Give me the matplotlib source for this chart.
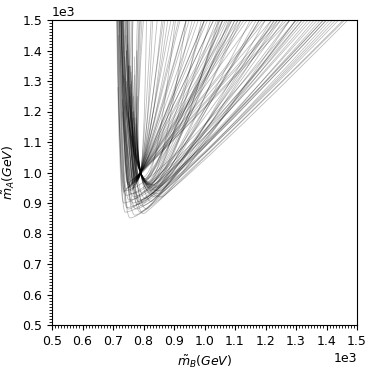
import numpy as np
import matplotlib
matplotlib.use('Agg')
import matplotlib.pyplot as plt
from matplotlib.path import Path
from matplotlib.patches import PathPatch
from matplotlib.ticker import MultipleLocator

# Each curve:
#   left_end_x/y    where the left branch ends (at the top edge, or earlier)
#   left_x_at_1000  x where the left branch crosses m_A = 1000
#   vertex_x/y      lowest point of the curve
#   right_x_at_1000 x where the right branch crosses m_A = 1000
#   right_top_x     x where the right branch leaves the top (m_A = 1500)
left_end_x = [752, 745, 738, 762, 730, 748, 768, 741, 757, 733, 771, 725, 754, 736, 744, 722, 739, 727,
              759, 750, 764, 746, 760, 731, 775, 716, 719, 728,
              745, 770, 735, 760, 740, 725, 780, 750, 732, 790, 765, 785, 755, 738, 765, 748,
              795, 775, 752, 742, 788, 758, 800, 728,
              718, 714, 722, 716, 725, 728, 720, 730, 712, 726, 734, 716, 721, 740, 731, 713,
              748, 742, 755, 736, 745, 730, 727, 732, 721, 739,
              770, 765, 760, 772, 755, 768, 750, 762, 758, 745, 780, 775, 770, 778, 765]
left_end_y = [1500, 1300, 1380, 1180, 1500, 1420, 1250, 1230, 1350, 1500, 1120, 1500, 1280, 1320, 1400, 1500, 1220, 1500,
              1330, 1200, 1150, 1500, 1260, 1500, 1080, 1500, 1450, 1500,
              1500, 1380, 1500, 1500, 1240, 1500, 1500, 1350, 1500, 1500, 1200, 1500, 1500, 1310, 1500, 1500,
              1500, 1160, 1500, 1450, 1500, 1290, 1500, 1500,
              1500, 1500, 1500, 1280, 1500, 1500, 1500, 1200, 1500, 1500, 1500, 1500, 1500, 1500, 1500, 1500,
              1500, 1500, 1350, 1500, 1500, 1240, 1500, 1500, 1500, 1500,
              1150, 1200, 1300, 1100, 1250, 1180, 1350, 1120, 1220, 1400, 1250, 1180, 1320, 1400, 1500]
left_x_at_1000 = [764, 766, 755, 776, 748, 765, 776, 759, 770, 751, 778, 745, 768, 753, 760, 741, 753, 742,
                  767, 770, 775, 760, 771, 748, 780, 727, 733, 743,
                  790, 791, 789, 790, 790, 791, 790, 789, 790, 790, 791, 791, 790, 790, 789, 790,
                  790, 791, 790, 790, 790, 790, 791, 790,
                  734, 726, 744, 730, 745, 750, 737, 755, 724, 749, 760, 731, 744, 767, 762, 728,
                  774, 774, 790, 761, 778, 758, 746, 769, 735, 766,
                  780, 776, 774, 781, 770, 779, 768, 776, 773, 765, 790, 791, 790, 790, 790]
vertex_x = [770, 775, 765, 780, 760, 772, 778, 768, 775, 762, 780, 755, 772, 760, 765, 750, 758, 748,
            770, 776, 779, 767, 774, 757, 782, 735, 742, 752,
            820, 810, 830, 815, 830, 845, 820, 840, 855, 805, 815, 805, 830, 850, 840, 860,
            800, 808, 825, 835, 812, 823, 806, 848,
            756, 740, 772, 745, 765, 775, 752, 780, 735, 768, 785, 742, 760, 795, 790, 738,
            800, 810, 825, 790, 805, 780, 765, 795, 750, 800,
            786, 784, 782, 787, 780, 785, 776, 783, 779, 773, 812, 808, 818, 805, 826]
vertex_y = [960, 970, 950, 980, 940, 965, 985, 955, 975, 945, 988, 955, 978, 965, 975, 960, 972, 965,
            972, 982, 978, 962, 984, 950, 990, 935, 945, 950,
            960, 960, 960, 950, 950, 950, 940, 940, 940, 970, 970, 980, 930, 930, 920, 920,
            985, 975, 955, 945, 965, 965, 978, 955,
            851, 870, 860, 885, 900, 880, 910, 895, 900, 920, 905, 925, 930, 890, 910, 940,
            900, 880, 905, 870, 915, 925, 890, 935, 880, 865,
            985, 980, 975, 988, 970, 983, 968, 978, 972, 966, 968, 975, 962, 980, 958]
right_x_at_1000 = [790, 790, 790, 792, 788, 790, 791, 789, 790, 792, 790, 790, 790, 790, 790, 790, 790, 790,
                   790, 789, 791, 790, 789, 793, 791, 795, 796, 794,
                   860, 845, 875, 855, 875, 895, 870, 895, 915, 830, 845, 825, 885, 910, 905, 930,
                   815, 830, 865, 880, 840, 852, 822, 893,
                   955, 930, 945, 925, 910, 935, 900, 915, 880, 885, 905, 860, 870, 935, 910, 840,
                   885, 915, 910, 925, 890, 860, 885, 860, 905, 950,
                   791, 790, 790, 791, 790, 791, 790, 792, 792, 791, 838, 828, 850, 822, 868]
right_top_x = [830, 860, 880, 900, 920, 950, 980, 1000, 1030, 1060, 1090, 1110, 1130, 1160, 1190, 1220, 1250, 1280,
               870, 940, 1010, 1050, 1070, 1140, 1120, 1240, 1270, 1200,
               1080, 1020, 1150, 1100, 1180, 1260, 1120, 1220, 1300, 1000, 1060, 1040, 1170, 1240, 1200, 1280,
               960, 1100, 1050, 1110, 940, 990, 905, 1230,
               1470, 1440, 1455, 1420, 1400, 1430, 1380, 1400, 1350, 1340, 1370, 1320, 1330, 1410, 1390, 1300,
               1250, 1320, 1300, 1360, 1280, 1230, 1310, 1180, 1390, 1460,
               810, 825, 845, 865, 890, 915, 940, 970, 1000, 1030, 1060, 1075, 1090, 1085, 1045]

top_y = 1500.0
cross_y = 1000.0


def ctrl_x(x_cross, xv, yv, x_end, y_end):
    # control point of a quadratic Bezier (vertex -> end) that meets x_cross at m_A = 1000
    t = np.sqrt((cross_y - yv) / (y_end - yv))
    return (x_cross - (1 - t) ** 2 * xv - t ** 2 * x_end) / (2 * t * (1 - t))


fig = plt.figure(figsize=(3.74, 3.70), dpi=100)
ax = fig.add_axes([52 / 374, 45 / 370, 305 / 374, 305 / 370])

for xl, yl, xfl, xv, yv, xfr, xr in zip(left_end_x, left_end_y, left_x_at_1000, vertex_x,
                                        vertex_y, right_x_at_1000, right_top_x):
    cl = ctrl_x(xfl, xv, yv, xl, yl)
    cr = ctrl_x(xfr, xv, yv, xr, top_y)
    verts = [(xl, yl), (cl, yv), (xv, yv), (cr, yv), (xr, top_y)]
    codes = [Path.MOVETO, Path.CURVE3, Path.CURVE3, Path.CURVE3, Path.CURVE3]
    ax.add_patch(PathPatch(Path(verts, codes), fill=False, edgecolor='black',
                           linewidth=0.6, alpha=0.26))

ax.set_xlim(500, 1500)
ax.set_ylim(500, 1500)
ax.xaxis.set_major_locator(MultipleLocator(100))
ax.yaxis.set_major_locator(MultipleLocator(100))
ax.xaxis.set_minor_locator(MultipleLocator(10))
ax.yaxis.set_minor_locator(MultipleLocator(10))
ax.ticklabel_format(style='sci', axis='both', scilimits=(0, 0))
ax.tick_params(labelsize=9)
ax.xaxis.get_offset_text().set_fontsize(9)
ax.yaxis.get_offset_text().set_fontsize(9)
ax.set_xlabel(r'$\tilde{m}_B(GeV)$', fontsize=9)
ax.set_ylabel(r'$\tilde{m}_A(GeV)$', fontsize=9)

fig.savefig('out.png', dpi=100)
